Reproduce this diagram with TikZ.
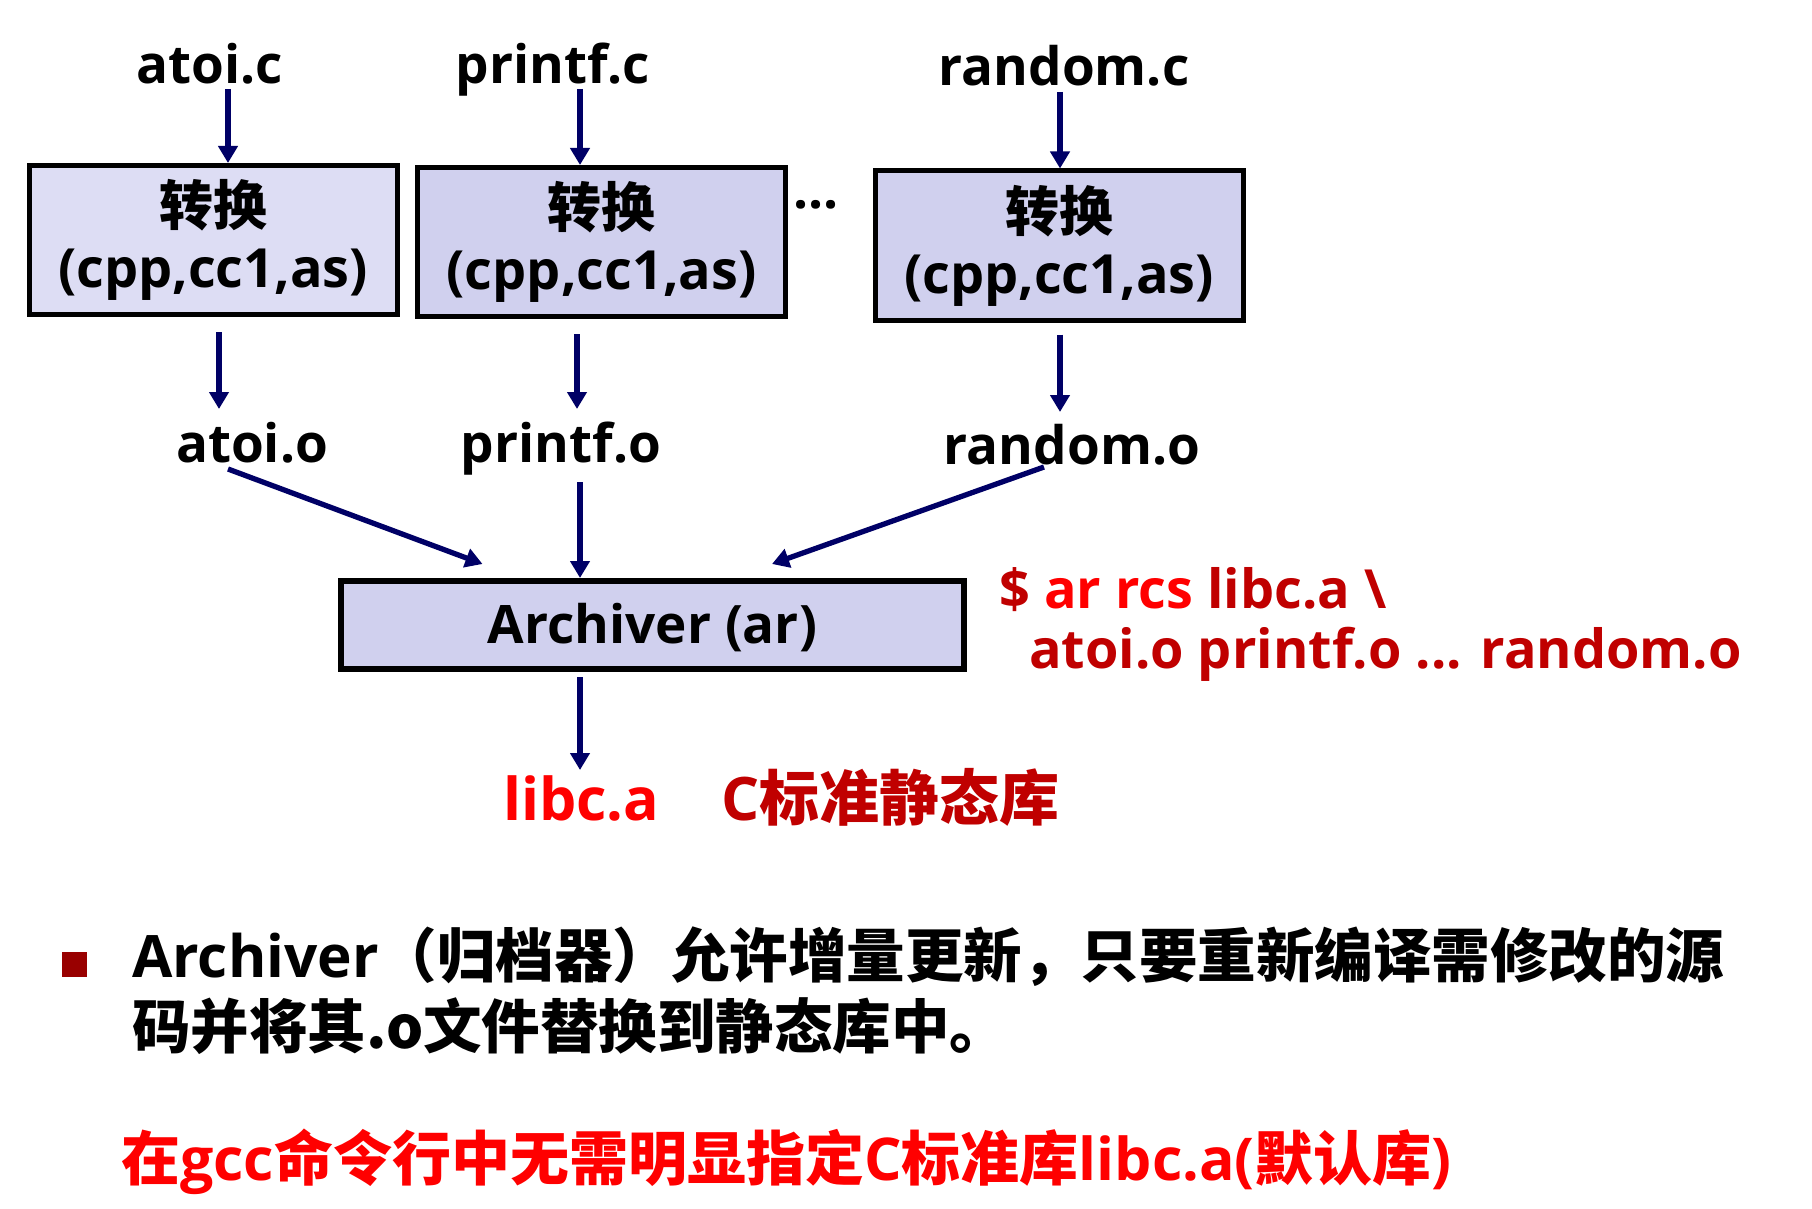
\documentclass[tikz,border=0pt]{standalone}
\usepackage{fontspec}
\newfontfamily\lat{Open Sans}
\newfontfamily\cjk{Noto Sans CJK SC}
\usetikzlibrary{arrows.meta}
\definecolor{navy}{RGB}{0,0,102}
\definecolor{boxA}{RGB}{221,221,244}
\definecolor{boxB}{RGB}{208,208,238}
\definecolor{brtred}{RGB}{255,0,0}
\definecolor{drkred}{RGB}{192,0,0}
\definecolor{bulred}{RGB}{153,0,0}
\tikzset{
  lbl/.style={font=\lat\bfseries\fontsize{53}{62}\selectfont, inner sep=0pt, anchor=base},
  procbox/.style={draw=black, line width=5pt, fill=boxB, minimum width=368pt, minimum height=149pt,
    inner sep=0pt, align=center, font=\bfseries\fontsize{54}{62}\selectfont},
  archbox/.style={draw=black, line width=6pt, fill=boxB, minimum width=623pt, minimum height=88pt,
    inner sep=0pt, text height=48pt, text depth=12pt, font=\lat\bfseries\fontsize{53}{62}\selectfont},
  arr/.style={draw=navy, line width=5.3pt, -{Triangle[length=17pt,width=19pt]}},
  cmd/.style={font=\lat\bfseries\fontsize{54}{62}\selectfont, inner sep=0pt, anchor=base west, text=drkred},
  big/.style={font=\bfseries\fontsize{60}{70}\selectfont, inner sep=0pt, anchor=base west},
  para/.style={font=\bfseries\fontsize{58.5}{70}\selectfont, inner sep=0pt, anchor=base west},
}
\begin{document}
\begin{tikzpicture}[x=1pt,y=-1pt]
\useasboundingbox[fill=white] (0,0) rectangle (1812,1209);

% source files
\node[lbl] (atoic) at (210,84) {atoi.c};
\node[lbl] (printfc) at (553,84) {printf.c};
\node[lbl] (randomc) at (1064,86) {random.c};

% translation boxes
\node[procbox, fill=boxA] (box1) at (213,240) {{\cjk 转换}\\{\lat (cpp,cc1,as)}};
\node[procbox] (box2) at (601.5,242) {{\cjk 转换}\\{\lat (cpp,cc1,as)}};
\node[procbox] (box3) at (1059,245.5) {{\cjk 转换}\\{\lat (cpp,cc1,as)}};
\node[lbl] (dots) at (816,208) {...};

% object files
\node[lbl] (atoio) at (252,462) {atoi.o};
\node[lbl] (printfo) at (561,462) {printf.o};
\node[lbl] (randomo) at (1072,464) {random.o};

% archiver
\node[archbox] (arch) at (652.5,625) {Archiver (ar)};

% command
\node[cmd] (cmd1) at (999,608) {\$ \textcolor{brtred}{ar rcs} libc.a \textbackslash};
\node[cmd] (cmd2) at (1029,668) {atoi.o printf.o ... random.o};

% result
\node[big, text=brtred, font=\lat\bfseries\fontsize{59}{70}\selectfont] (libc) at (503,820) {libc.a};
\node[big, text=drkred] (cstd) at (721,820) {{\lat C}{\cjk 标准静态库}};

% bullet text
\node[fill=bulred, minimum size=25pt, inner sep=0pt] (bul) at (74.5,964.5) {};
\node[para] (line1) at (132,977) {{\lat Archiver}{\cjk （归档器）允许增量更新，只要重新编译需修改的源}};
\node[para] (line2) at (132,1048) {{\cjk 码并将其.o文件替换到静态库中。}};
\node[para, font=\bfseries\fontsize{59}{70}\selectfont, text=brtred] (note) at (121,1180) {{\cjk 在}{\lat gcc}{\cjk 命令行中无需明显指定}{\lat C}{\cjk 标准库}{\lat libc.a(}{\cjk 默认库}{\lat )}};

% arrows
\draw[arr] ([xshift=18pt,yshift=-5pt]atoic.base) -- ([xshift=18pt]atoic.base |- box1.north);
\draw[arr] ([xshift=27pt,yshift=-5pt]printfc.base) -- ([xshift=27pt]printfc.base |- box2.north);
\draw[arr] ([xshift=-4pt,yshift=-6pt]randomc.base) -- ([xshift=-4pt]randomc.base |- box3.north);

\draw[arr] ([xshift=6pt,yshift=-15pt]box1.south) -- ([xshift=-33pt,yshift=53pt]atoio.base);
\draw[arr] ([xshift=-24.5pt,yshift=-15pt]box2.south) -- ([xshift=16pt,yshift=53pt]printfo.base);
\draw[arr] ([xshift=1pt,yshift=-12pt]box3.south) -- ([xshift=-12pt,yshift=52pt]randomo.base);

\draw[arr] ([xshift=-24pt,yshift=-7pt]atoio.base) -- ([xshift=-170pt,yshift=14pt]arch.north);
\draw[arr] ([xshift=19pt,yshift=-20pt]printfo.base) -- ([xshift=-72.5pt]arch.north);
\draw[arr] ([xshift=-28pt,yshift=-3pt]randomo.base) -- ([xshift=119.5pt,yshift=14pt]arch.north);

\draw[arr] ([xshift=-72.5pt,yshift=-5pt]arch.south) -- ([xshift=77pt,yshift=50pt]libc.base west);
\end{tikzpicture}
\end{document}
